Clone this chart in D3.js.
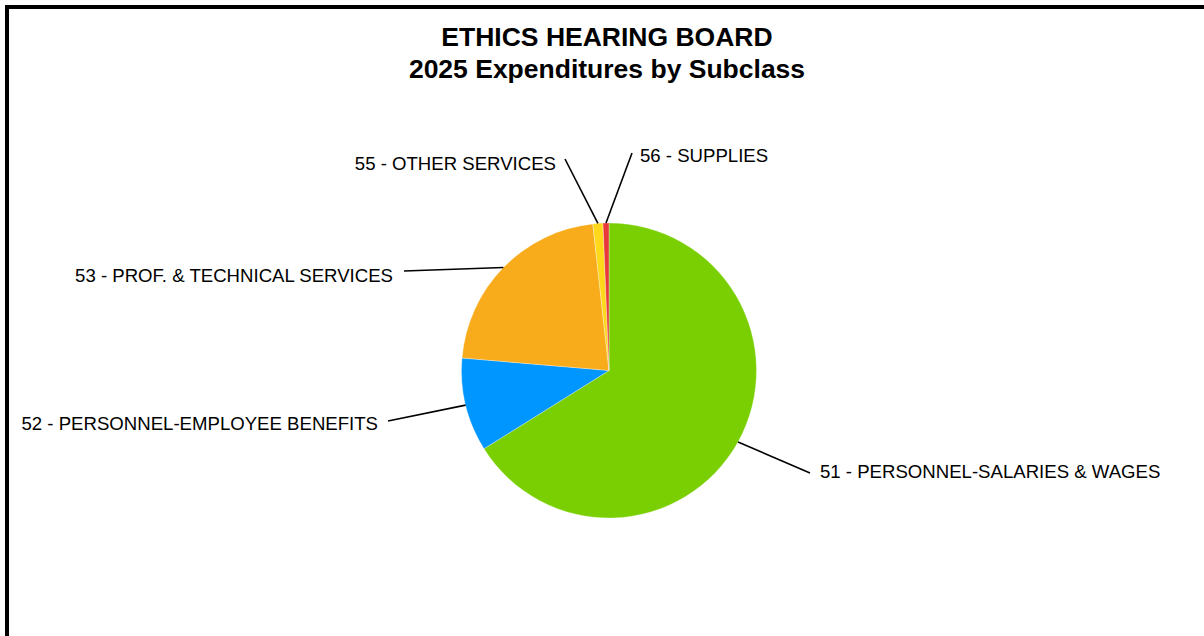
<!DOCTYPE html>
<html>
<head>
<meta charset="utf-8">
<script src="https://cdn.jsdelivr.net/npm/d3@7"></script>
<style>
  html, body { margin: 0; padding: 0; background: #fff; }
  svg { display: block; font-family: "Liberation Sans", Arial, sans-serif; }
</style>
</head>
<body>
<svg id="chart" width="1204" height="636"></svg>
<script>
// Expenditure subclasses and their share of the 2025 budget (percent)
const subclasses = [
  "51 - PERSONNEL-SALARIES & WAGES",
  "52 - PERSONNEL-EMPLOYEE BENEFITS",
  "53 - PROF. & TECHNICAL SERVICES",
  "55 - OTHER SERVICES",
  "56 - SUPPLIES"
];
const amounts = [66.1, 10.25, 21.9, 1.1, 0.65];
const sliceColors = ["#7ACF03", "#0096FF", "#F9AC1B", "#FFD81C", "#E8383A"];
const titleLines = ["ETHICS HEARING BOARD", "2025 Expenditures by Subclass"];

// Where each label's leader line ends and where its text sits
const labelLayout = [
  { end: [810, 473], text: [820, 478], anchor: "start" },
  { end: [388, 421], text: [378, 430], anchor: "end" },
  { end: [404, 271], text: [393, 282], anchor: "end" },
  { end: [565, 159], text: [556, 170], anchor: "end" },
  { end: [632, 153], text: [640, 162], anchor: "start" }
];

const W = 1204, H = 636;
const cx = 609, cy = 370.5, radius = 147.5;

const svg = d3.select("#chart");

// outer frame (runs off the right and bottom edges)
svg.append("rect")
  .attr("x", 7).attr("y", 7)
  .attr("width", W + 20).attr("height", H + 20)
  .attr("fill", "#fff")
  .attr("stroke", "#000")
  .attr("stroke-width", 4);

// title
svg.append("g")
  .selectAll("text")
  .data(titleLines)
  .join("text")
  .attr("x", 607)
  .attr("y", (d, i) => 46 + i * 32)
  .attr("text-anchor", "middle")
  .attr("font-weight", "bold")
  .attr("font-size", 26.5)
  .attr("fill", "#000")
  .text(d => d);

const data = subclasses.map((name, i) => ({ name, value: amounts[i], color: sliceColors[i], layout: labelLayout[i] }));

const pie = d3.pie().sort(null).value(d => d.value);
const arcs = pie(data);
const arc = d3.arc().innerRadius(0).outerRadius(radius);
const edgeArc = d3.arc().innerRadius(radius).outerRadius(radius);

const g = svg.append("g").attr("transform", `translate(${cx},${cy})`);

g.selectAll("path.slice")
  .data(arcs)
  .join("path")
  .attr("class", "slice")
  .attr("d", arc)
  .attr("fill", d => d.data.color)
  .attr("stroke", "#fff")
  .attr("stroke-width", 0.5)
  .attr("stroke-opacity", 0.6);

// leader lines from the middle of each slice's rim to its label
g.selectAll("line.leader")
  .data(arcs)
  .join("line")
  .attr("class", "leader")
  .attr("x1", d => edgeArc.centroid(d)[0])
  .attr("y1", d => edgeArc.centroid(d)[1])
  .attr("x2", d => d.data.layout.end[0] - cx)
  .attr("y2", d => d.data.layout.end[1] - cy)
  .attr("stroke", "#000")
  .attr("stroke-width", 1.6);

svg.append("g")
  .selectAll("text")
  .data(data)
  .join("text")
  .attr("x", d => d.layout.text[0])
  .attr("y", d => d.layout.text[1])
  .attr("text-anchor", d => d.layout.anchor)
  .attr("font-size", 18.6)
  .attr("fill", "#000")
  .text(d => d.name);
</script>
</body>
</html>
